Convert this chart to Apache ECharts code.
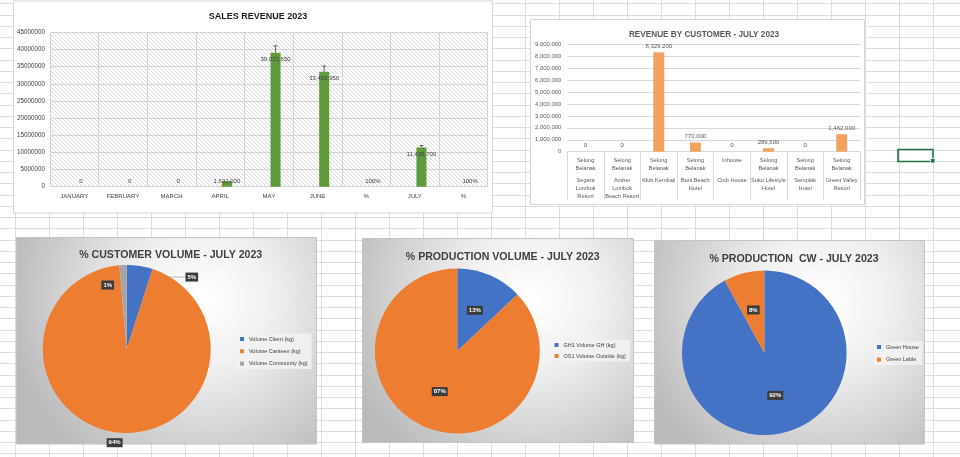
<!DOCTYPE html>
<html><head><meta charset="utf-8">
<script src="https://cdn.jsdelivr.net/npm/echarts@6/dist/echarts.min.js"></script>
<style>html,body{margin:0;padding:0;background:#fff}#c{width:960px;height:457px}</style>
</head><body><div id="c"></div>
<script>
// ---------- DATA ----------
const salesMonths = ['JANUARY','FEBRUARY','MARCH','APRIL','MAY','JUNE','%','JULY','%'];
const salesValues = [0, 0, 0, 1631000, 39072650, 33492950, 1, 11435700, 1];
const salesErrorPct = 0.05;
const salesAxis = { min: 0, max: 45000000, step: 5000000 };

const custArea = ['Selong\nBelanak','Selong\nBelanak','Selong\nBelanak','Selong\nBelanak','Inhouse','Selong\nBelanak','Selong\nBelanak','Selong\nBelanak'];
const custName = ['Segara\nLombok\nResort','Amber\nLombok\nBeach Resort','Klub Kembali','Boni Beach\nHotel','Club House','Suku Lifestyle\nHotel','Semplak\nHotel','Green Valley\nResort'];
const custRevenue = [0, 0, 8329200, 770000, 0, 289500, 0, 1462000];
const custAxis = { min: 0, max: 9000000, step: 1000000 };

const custVolNames = ['Volume Client (kg)','Volume Canteen (kg)','Volume Community (kg)'];
const custVolShare = [5.0, 93.6, 1.4];
const prodVolNames = ['GH1 Volume GH (kg)','OS1 Volume Outside (kg)'];
const prodVolShare = [13, 87];
const prodCwNames = ['Green House','Green Lable'];
const prodCwShare = [92, 8];

// ---------- STYLE ----------
const FONT = '"Liberation Sans", Arial, sans-serif';
const BLUE = '#4472c4', ORANGE = '#ed7d31', GRAY = '#a5a5a5';
const GREEN = '#5f9b3a', BAR_ORANGE = '#f2a15f';
const BAR_W = 10, BAR_GAP = 0.34;
const BAR_OFFSET = (BAR_W + BAR_W * BAR_GAP) / 2;

const tile = document.createElement('canvas');
tile.width = 4; tile.height = 4;
const tg = tile.getContext('2d');
tg.fillStyle = '#ffffff'; tg.fillRect(0,0,4,4);
tg.strokeStyle = '#cdcdcd'; tg.lineWidth = 0.8;
tg.beginPath();
for (let k = -4; k <= 4; k += 4) { tg.moveTo(k, 0); tg.lineTo(k + 4, 4); }
tg.stroke();

// background: spreadsheet cells
const gfx = [];
for (let x = 15.5; x < 960; x += 34) gfx.push({type:'line', z:-30, silent:true, shape:{x1:x,y1:0,x2:x,y2:457}, style:{stroke:'#dcdcdc', lineWidth:1}});
for (let y = 3.3; y < 457; y += 11.25) { const yy = Math.round(y) + 0.5; gfx.push({type:'line', z:-30, silent:true, shape:{x1:0,y1:yy,x2:960,y2:yy}, style:{stroke:'#dcdcdc', lineWidth:1}}); }
const pieBg = {type:'radial', x:0.62, y:0.3, r:0.95, colorStops:[{offset:0,color:'#ffffff'},{offset:0.35,color:'#f0f0f0'},{offset:1,color:'#bababa'}]};
const panels = [
  [13.5, 1, 479, 212, '#ffffff', '#d6d6d6'],
  [530.5, 19.5, 334, 185, '#ffffff', '#d6d6d6'],
  [16.5, 237.5, 300, 206.5, pieBg, '#c4c4c4'],
  [362.5, 238.5, 271, 204, pieBg, '#c4c4c4'],
  [654.5, 240.5, 270, 203.5, pieBg, '#c4c4c4']
];
panels.forEach(p => gfx.push({type:'rect', z:-20, silent:true, shape:{x:p[0],y:p[1],width:p[2],height:p[3]}, style:{fill:p[4], stroke:p[5], lineWidth:1}}));
// selected cell
gfx.push({type:'rect', z:50, silent:true, shape:{x:898,y:149.5,width:35,height:12}, style:{fill:'none', stroke:'#217346', lineWidth:1.6}});
gfx.push({type:'rect', z:51, silent:true, shape:{x:930.5,y:158.5,width:4.5,height:4.5}, style:{fill:'#217346', stroke:'#ffffff', lineWidth:0.8}});

const pieLabel = {show:true, position:'inside', color:'#ffffff', fontWeight:'bold', fontSize:6, fontFamily:FONT,
  backgroundColor:'#3b3b3b', padding:[1.5,2], formatter: p => Math.round(p.percent) + '%'};
const legendBase = {orient:'vertical', icon:'rect', itemWidth:4, itemHeight:4, selectedMode:false,
  padding:[2,4,2,3], backgroundColor:'rgba(242,242,242,0.85)',
  textStyle:{fontSize:5.5, color:'#404040', fontFamily:FONT, lineHeight:7}};

const option = {
  animation:false,
  textStyle:{fontFamily:FONT},
  graphic: gfx,
  title: [
    {text:'SALES REVENUE 2023', left:253, top:7.5, textAlign:'center', textStyle:{fontSize:9, fontWeight:'bold', color:'#1a1a1a', fontFamily:FONT}},
    {text:'REVENUE BY CUSTOMER - JULY 2023', left:699, top:25.5, textAlign:'center', textStyle:{fontSize:8.2, fontWeight:'bold', color:'#595959', fontFamily:FONT}},
    {text:'% CUSTOMER VOLUME - JULY 2023', left:165.7, top:245, textAlign:'center', textStyle:{fontSize:10.6, fontWeight:'bold', color:'#404040', fontFamily:FONT}},
    {text:'% PRODUCTION VOLUME - JULY 2023', left:497.7, top:246.5, textAlign:'center', textStyle:{fontSize:10.6, fontWeight:'bold', color:'#404040', fontFamily:FONT}},
    {text:'% PRODUCTION  CW - JULY 2023', left:789, top:249, textAlign:'center', textStyle:{fontSize:10.6, fontWeight:'bold', color:'#404040', fontFamily:FONT}}
  ],
  legend: [
    Object.assign({}, legendBase, {data:custVolNames, left:237, top:333.5, itemGap:5.3}),
    Object.assign({}, legendBase, {data:prodVolNames, left:551.5, top:339.5, itemGap:4}),
    Object.assign({}, legendBase, {data:prodCwNames, left:874, top:341.5, itemGap:5.6})
  ],
  grid: [
    {left:50, top:32.3, width:437.7, height:154.4, show:true, borderWidth:0, backgroundColor:{image:tile, repeat:'repeat'}},
    {left:567.3, top:44.3, width:292.7, height:107.4}
  ],
  xAxis: [
    {type:'category', gridIndex:0, data:salesMonths,
     axisLine:{lineStyle:{color:'#d4d4d4'}}, axisTick:{show:false},
     splitLine:{show:true, interval:0, lineStyle:{color:'#d4d4d4'}},
     axisLabel:{interval:0, fontSize:6, color:'#404040', margin:7, fontFamily:FONT}},
    {type:'category', gridIndex:1, data:custName,
     axisLine:{lineStyle:{color:'#d9d9d9'}},
     axisTick:{show:true, interval:0, length:48, lineStyle:{color:'#d9d9d9'}},
     axisLabel:{interval:0, margin:5, color:'#595959', fontFamily:FONT,
       formatter:(v, i) => {
         const a = custArea[i].split('\n'); while (a.length < 2) a.push(' ');
         const b = custName[i].split('\n');
         return a.map(s => '{a|' + s + '}').join('\n') + '\n{g| }\n' + b.map(s => '{a|' + s + '}').join('\n');
       },
       rich:{a:{fontSize:5.6, lineHeight:8, color:'#595959', fontFamily:FONT}, g:{fontSize:4, lineHeight:4}}}}
  ],
  yAxis: [
    {type:'value', gridIndex:0, min:salesAxis.min, max:salesAxis.max, interval:salesAxis.step,
     axisLine:{show:false}, axisTick:{show:false},
     splitLine:{lineStyle:{color:'#d4d4d4'}},
     axisLabel:{fontSize:6.3, color:'#404040', margin:5, formatter: v => String(v), fontFamily:FONT}},
    {type:'value', gridIndex:1, min:custAxis.min, max:custAxis.max, interval:custAxis.step,
     axisLine:{show:false}, axisTick:{show:false},
     splitLine:{lineStyle:{color:'#d9d9d9'}},
     axisLabel:{fontSize:5.9, color:'#595959', margin:6, formatter: v => v.toLocaleString('en-US'), fontFamily:FONT}}
  ],
  series: [
    {type:'bar', xAxisIndex:0, yAxisIndex:0, data: salesValues.map(() => null), barWidth:BAR_W, barGap:(BAR_GAP*100)+'%', silent:true},
    {type:'bar', xAxisIndex:0, yAxisIndex:0, barWidth:BAR_W, barGap:(BAR_GAP*100)+'%',
     itemStyle:{color:GREEN},
     data: salesValues.map((v, i) => ({value:v, label:{show:true,
        position: v > salesAxis.max * 0.05 ? 'insideTop' : 'insideBottom',
        distance: v > salesAxis.max * 0.05 ? 4 : 2,
        formatter: () => salesMonths[i] === '%' ? Math.round(v * 100) + '%' : v.toLocaleString('en-US'),
        fontSize:6, color:'#404040', fontFamily:FONT}}))},
    {type:'custom', xAxisIndex:0, yAxisIndex:0, z:3, silent:true,
     data: salesValues.map((v, i) => [i, v]),
     renderItem: (params, api) => {
       const i = api.value(0), v = api.value(1);
       if (!(v > 0)) return null;
       const base = api.coord([i, v]);
       const top = api.coord([i, v * (1 + salesErrorPct)]);
       if (base[1] - top[1] < 1) return null;
       const x = base[0] + BAR_OFFSET;
       const st = {stroke:'#3f3f3f', lineWidth:0.8};
       return {type:'group', children:[
         {type:'line', shape:{x1:x, y1:base[1], x2:x, y2:top[1]}, style:st},
         {type:'line', shape:{x1:x-2, y1:top[1], x2:x+2, y2:top[1]}, style:st}
       ]};
     }},
    {type:'bar', xAxisIndex:1, yAxisIndex:1, barWidth:11, itemStyle:{color:BAR_ORANGE},
     data: custRevenue,
     label:{show:true, position:'top', distance:3, fontSize:6, color:'#595959', fontFamily:FONT,
       formatter: p => p.value.toLocaleString('en-US')}},
    {type:'pie', center:[126.7, 349], radius:84, startAngle:90, clockwise:true,
     label: pieLabel, labelLine:{show:false},
     labelLayout: p => {
       if (p.dataIndex !== 0) return {};
       const r = p.labelRect;
       return {x: r.x + 19, y: r.y + r.height / 2 + 15, align:'left', verticalAlign:'middle'};
     },
     data: custVolNames.map((n, i) => {
       const d = {name:n, value:custVolShare[i], itemStyle:{color:[BLUE, ORANGE, GRAY][i]}};
       if (i === 0) { d.label = {position:'outside', distanceToLabelLine:0}; d.labelLine = {show:true, length:4, length2:26, lineStyle:{color:'#8c8c8c', width:0.6}}; }
       if (i === 1) d.label = {offset:[-7, 49]};
       if (i === 2) d.label = {offset:[-17, -19]};
       return d;
     })},
    {type:'pie', center:[457.3, 351], radius:82.5, startAngle:90, clockwise:true,
     label: pieLabel, labelLine:{show:false},
     data: prodVolNames.map((n, i) => ({name:n, value:prodVolShare[i], itemStyle:{color:[BLUE, ORANGE][i]}}))},
    {type:'pie', center:[764.3, 352.7], radius:82.3, startAngle:90, clockwise:true,
     label: pieLabel, labelLine:{show:false},
     data: prodCwNames.map((n, i) => ({name:n, value:prodCwShare[i], itemStyle:{color:[BLUE, ORANGE][i]}}))}
  ]
};
const chart = echarts.init(document.getElementById('c'), null, {renderer:'canvas'});
chart.setOption(option);
</script>
</body></html>
